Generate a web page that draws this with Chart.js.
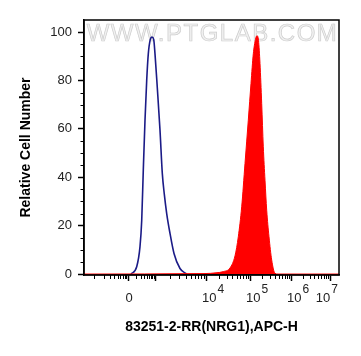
<!DOCTYPE html>
<html><head><meta charset="utf-8">
<script src="https://cdn.jsdelivr.net/npm/chart.js@4/dist/chart.umd.min.js"></script>
<style>html,body{margin:0;padding:0;background:#fff}#wrap{width:361px;height:356px;position:relative}</style>
</head><body><div id="wrap"><canvas id="c"></canvas></div>
<script>
// Histogram positions are in display units along the (biexponential) x axis
const blueX = [47, 52.7, 56, 57.7, 59.3, 61, 62.7, 64.3, 66.3, 68, 69.7, 71, 73.3, 76, 78.3, 80.3, 82.7, 86, 90, 96, 102.7];
const blueY = [0, 3, 11.3, 22, 43, 63.6, 80, 91, 97, 98, 97, 91, 77, 59.5, 41.6, 33, 25, 16.8, 8.5, 2.3, 0];
const redX = [0, 121, 132, 139.3, 146, 151, 154.3, 157.7, 161, 164.3, 167, 169.3, 171.5, 173, 174.5, 176, 177.7, 179.3, 181, 182.7, 185, 187.7, 191, 194, 255];
const redY = [0, 0.2, 0.5, 1, 2.5, 7.5, 15.4, 27.8, 45.7, 63.6, 78.8, 91, 97, 98.5, 96.5, 87, 70.5, 52.6, 38.8, 26.4, 15.4, 5.8, 0.3, 0, 0];

const yTicks = [0, 20, 40, 60, 80, 100];
const yMinorTicks = [5, 10, 15, 25, 30, 35, 45, 50, 55, 65, 70, 75, 85, 90, 95];
const xMajorTicks = [44, 71, 122, 166, 207, 246];
const xTickBase = ['0', '', '10', '10', '10', '10'];
const xTickExp = ['', '', '4', '5', '6', '7'];
const xDecadeEdges = [10, 44, 71, 122, 166, 207, 246];
const xTitle = '83251-2-RR(NRG1),APC-H';
const yTitle = 'Relative Cell Number';
const watermark = 'WWW.PTGLAB.COM';

const FONT = "'Liberation Sans', Arial, sans-serif";

// minor tick positions: log-spaced inside each decade
const xMinorTicks = [xDecadeEdges[0]];
for (let d = 0; d < xDecadeEdges.length - 1; d++) {
  const a = xDecadeEdges[d], b = xDecadeEdges[d + 1];
  for (let k = 2; k <= 9; k++) xMinorTicks.push(a + (b - a) * Math.log10(k));
}

const deco = {
  id: 'deco',
  beforeDatasetsDraw(chart) {
    const {ctx, chartArea: ca} = chart;
    ctx.save();
    ctx.beginPath(); ctx.rect(ca.left, ca.top, ca.right - ca.left, ca.bottom - ca.top); ctx.clip();
    ctx.font = "24px " + FONT;
    if ('letterSpacing' in ctx) ctx.letterSpacing = '1.5px';
    ctx.textAlign = 'center'; ctx.textBaseline = 'middle';
    ctx.fillStyle = '#f1f1f1';
    ctx.strokeStyle = '#cdcdcd'; ctx.lineWidth = 0.7;
    const cx = (ca.left + ca.right) / 2 + 1;
    ctx.fillText(watermark, cx, ca.top + 14);
    ctx.strokeText(watermark, cx, ca.top + 14);
    ctx.restore();
  },
  afterDraw(chart) {
    const {ctx, chartArea: ca, scales: {x, y}} = chart;
    ctx.save();
    ctx.strokeStyle = '#000'; ctx.lineWidth = 1.5;
    ctx.strokeRect(ca.left, ca.top, ca.right - ca.left, ca.bottom - ca.top);
    ctx.lineWidth = 1;
    ctx.beginPath();
    xMinorTicks.forEach(v => {
      const px = Math.round(x.getPixelForValue(v)) + 0.5;
      ctx.moveTo(px, ca.bottom); ctx.lineTo(px, ca.bottom + 4);
    });
    yMinorTicks.forEach(v => {
      const py = Math.round(y.getPixelForValue(v)) + 0.5;
      ctx.moveTo(ca.left, py); ctx.lineTo(ca.left - 3.5, py);
    });
    ctx.stroke();
    // x tick labels with superscript exponents
    ctx.fillStyle = '#222';
    ctx.textBaseline = 'middle';
    xMajorTicks.forEach((v, i) => {
      const base = xTickBase[i], exp = xTickExp[i];
      if (!base) return;
      const px = x.getPixelForValue(v);
      ctx.font = "13px " + FONT;
      const wb = ctx.measureText(base).width;
      ctx.font = "12px " + FONT;
      const we = exp ? ctx.measureText(exp).width + 1 : 0;
      const total = wb + we;
      let center = exp ? px + 7 : px + 1;
      if (center + total / 2 > ca.right - 1) center = ca.right - 1 - total / 2;
      const left = center - total / 2;
      ctx.textAlign = 'left';
      ctx.font = "13px " + FONT;
      ctx.fillText(base, left, 298.5);
      if (exp) { ctx.font = "12px " + FONT; ctx.fillText(exp, left + wb + 1, 290); }
    });
    ctx.restore();
  }
};

new Chart(document.getElementById('c'), {
  type: 'line',
  data: {
    datasets: [
      { label: 'sample', data: redX.map((v, i) => ({x: v, y: redY[i]})),
        borderColor: '#ff0000', backgroundColor: '#ff0000', borderWidth: 1, fill: 'origin',
        pointRadius: 0, cubicInterpolationMode: 'monotone' },
      { label: 'control', data: blueX.map((v, i) => ({x: v, y: blueY[i]})),
        borderColor: '#1b1b87', borderWidth: 1.6, fill: false,
        pointRadius: 0, cubicInterpolationMode: 'monotone' }
    ]
  },
  options: {
    animation: false, responsive: true, maintainAspectRatio: false,
    layout: { padding: { left: 0, top: 20, right: 22, bottom: 0 } },
    plugins: { legend: { display: false }, tooltip: { enabled: false } },
    scales: {
      x: {
        type: 'linear', min: 0, max: 255,
        afterBuildTicks: s => { s.ticks = xMajorTicks.map(v => ({value: v})); },
        afterFit: s => { s.height = 81; },
        ticks: { display: false, autoSkip: false },
        grid: { display: true, drawOnChartArea: false, drawTicks: true, tickLength: 6, color: '#000', tickWidth: 1.5 },
        border: { display: true, color: '#000', width: 1.5 },
        title: { display: true, text: xTitle, color: '#000',
          font: { family: FONT, size: 14, weight: 'bold' }, padding: { top: 0, bottom: 20 } }
      },
      y: {
        type: 'linear', min: -0.4, max: 105,
        afterBuildTicks: s => { s.ticks = yTicks.map(v => ({value: v})); },
        afterFit: s => { s.width = 84; },
        ticks: { color: '#222', padding: 6, font: { family: FONT, size: 13 }, autoSkip: false },
        grid: { display: true, drawOnChartArea: false, drawTicks: true, tickLength: 6, color: '#000', tickWidth: 1.5 },
        border: { display: true, color: '#000', width: 1.5 },
        title: { display: true, text: yTitle, color: '#000',
          font: { family: FONT, size: 14, weight: 'bold' }, padding: { top: 18, bottom: 0 } }
      }
    }
  },
  plugins: [deco]
});
</script></body></html>
